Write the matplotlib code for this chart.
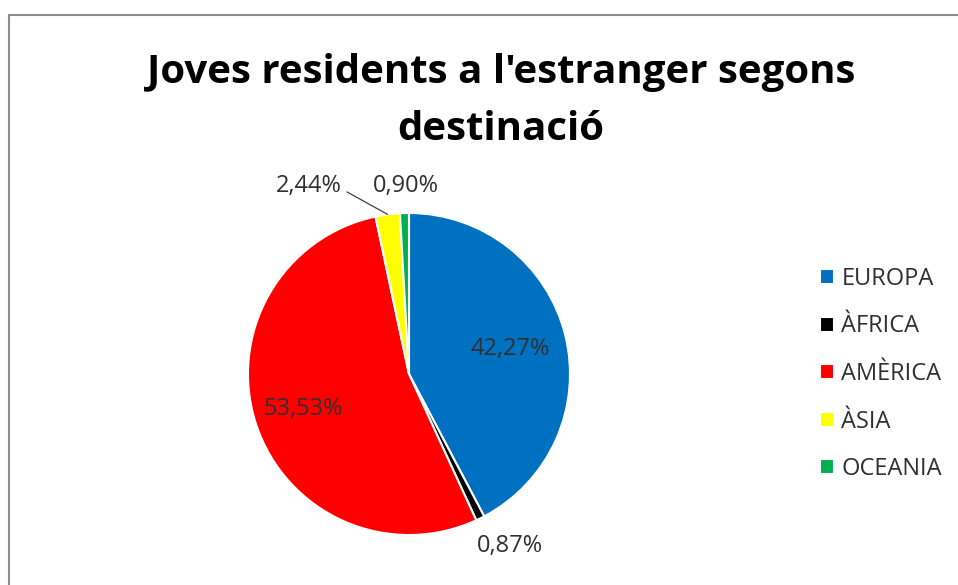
import numpy as np
import matplotlib
matplotlib.use('Agg')
import matplotlib.pyplot as plt
from matplotlib.patches import Rectangle

# Chart data
regions = ['EUROPA', 'ÀFRICA', 'AMÈRICA', 'ÀSIA', 'OCEANIA']
shares = [42.27, 0.87, 53.53, 2.44, 0.90]
share_labels = ['42,27%', '0,87%', '53,53%', '2,44%', '0,90%']
colors = ['#0070C0', '#000000', '#FF0000', '#FFFF00', '#00B050']
title = "Joves residents a l'estranger segons\ndestinació"

plt.rcParams['font.family'] = ['Open Sans', 'DejaVu Sans']

W, H = 958, 585
fig = plt.figure(figsize=(W / 100, H / 100), dpi=100)

# grey chart frame (runs past the right and bottom edges)
fig.patches.append(Rectangle((9 / W, -0.1), 1.2, (H - 15) / H + 0.1,
                             transform=fig.transFigure, fill=False,
                             edgecolor='#8c8c8c', lw=1.5))

fig.text(501 / W, 1 - 101 / H, title, ha='center', va='center',
         fontsize=29, fontweight='bold', linespacing=1.62, color='black')

# pie axes: centre at (409, 374) px, radius 161 px
r_px = 161
lim = 1.6
size = 2 * lim * r_px
cx, cy = 409, H - 374
ax = fig.add_axes([(cx - size / 2) / W, (cy - size / 2) / H, size / W, size / H])

wedges, _ = ax.pie(shares, colors=colors, startangle=90, counterclock=False,
                   radius=1, wedgeprops=dict(edgecolor='white', linewidth=1.5))
ax.set_xlim(-lim, lim)
ax.set_ylim(-lim, lim)
ax.set_aspect('equal')
ax.axis('off')

# label placement: distance from centre (radii) and angle shift (deg)
label_dist = [0.65, 1.24, 0.69, None, 1.17]
label_shift = [0, 4, 0, 0, 0]
for i, w in enumerate(wedges):
    if label_dist[i] is None:
        continue
    d = label_dist[i]
    if i == 4:
        x, y = -0.02, d
    else:
        mid = np.deg2rad((w.theta1 + w.theta2) / 2 + label_shift[i])
        x, y = d * np.cos(mid), d * np.sin(mid)
    ax.text(x, y, share_labels[i], ha='center', va='center',
            fontsize=17, color='#303030')

# Asia label with leader line
w = wedges[3]
mid = np.deg2rad((w.theta1 + w.theta2) / 2)
ax.annotate(share_labels[3], xy=(np.cos(mid), np.sin(mid)), xytext=(-0.42, 1.168),
            ha='right', va='center', fontsize=17, color='#303030',
            arrowprops=dict(arrowstyle='-', color='#404040', lw=0.9,
                            connectionstyle='angle,angleA=0,angleB=-29,rad=0',
                            shrinkA=2, shrinkB=0, relpos=(1, 0.25)))

fig.legend(wedges, regions, loc='center left', bbox_to_anchor=(820 / W, 1 - 374 / H),
           frameon=False, fontsize=17, handlelength=0.6, handleheight=0.6,
           handletextpad=0.3, labelspacing=1.0, borderpad=0, borderaxespad=0,
           labelcolor='#303030')

fig.savefig('out.png', dpi=100, facecolor='white')
